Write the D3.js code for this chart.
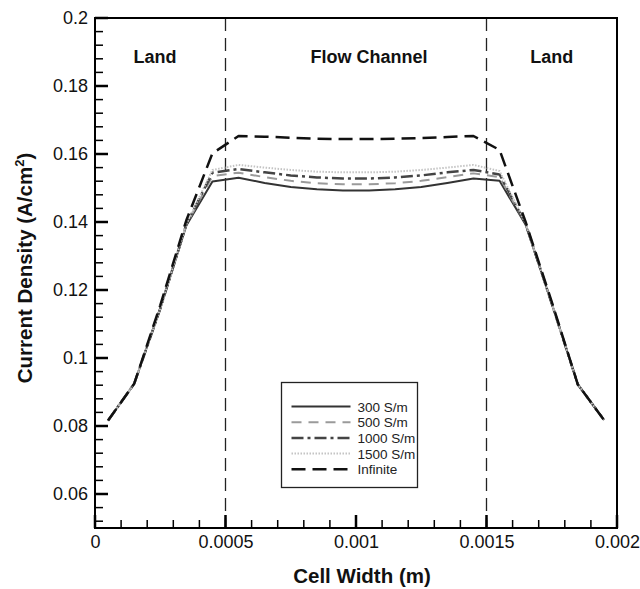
<!DOCTYPE html>
<html>
<head>
<meta charset="utf-8">
<script src="https://cdn.jsdelivr.net/npm/d3@7"></script>
<style>
  body { margin: 0; background: #fff; }
  svg { display: block; font-family: "Liberation Sans", Arial, sans-serif; color: #000; }
</style>
</head>
<body>
<svg id="chart" width="640" height="589"></svg>
<script>
// cell width positions (m)
var cellX = [0.00005, 0.00015, 0.00025, 0.00035, 0.00045, 0.00055, 0.00065, 0.00075, 0.00085, 0.00095,
             0.00105, 0.00115, 0.00125, 0.00135, 0.00145, 0.00155, 0.00165, 0.00175, 0.00185, 0.00195];

// current density (A/cm2) for each membrane conductivity
var s300  = [0.0816, 0.0924, 0.1145, 0.1390, 0.1519, 0.1530, 0.1515, 0.1503, 0.1496, 0.1493,
             0.1493, 0.1496, 0.1503, 0.1515, 0.1528, 0.1521, 0.1392, 0.1160, 0.0922, 0.0818];
var s500  = [0.0816, 0.0924, 0.1145, 0.1392, 0.1535, 0.1545, 0.1532, 0.1521, 0.1514, 0.1511,
             0.1511, 0.1514, 0.1521, 0.1532, 0.1543, 0.1532, 0.1394, 0.1160, 0.0922, 0.0818];
var s1000 = [0.0816, 0.0924, 0.1145, 0.1393, 0.1545, 0.1556, 0.1546, 0.1537, 0.1531, 0.1528,
             0.1528, 0.1531, 0.1537, 0.1546, 0.1553, 0.1540, 0.1395, 0.1160, 0.0922, 0.0818];
var s1500 = [0.0816, 0.0924, 0.1145, 0.1394, 0.1553, 0.1568, 0.1560, 0.1553, 0.1548, 0.1546,
             0.1546, 0.1548, 0.1553, 0.1560, 0.1568, 0.1550, 0.1396, 0.1160, 0.0922, 0.0818];
var sInf  = [0.0816, 0.0924, 0.1155, 0.1405, 0.1602, 0.1653, 0.1651, 0.1648, 0.1645, 0.1644,
             0.1644, 0.1645, 0.1647, 0.1650, 0.1653, 0.1612, 0.1400, 0.1165, 0.0922, 0.0818];

var seriesNames = ["300 S/m", "500 S/m", "1000 S/m", "1500 S/m", "Infinite"];
var seriesValues = [s300, s500, s1000, s1500, sInf];

var xTicks = [0, 0.0005, 0.001, 0.0015, 0.002];
var xTickLabels = ["0", "0.0005", "0.001", "0.0015", "0.002"];
var yTicks = [0.06, 0.08, 0.1, 0.12, 0.14, 0.16, 0.18, 0.2];
var yTickLabels = ["0.06", "0.08", "0.1", "0.12", "0.14", "0.16", "0.18", "0.2"];

var regionNames = ["Land", "Flow Channel", "Land"];
var regionCenters = [0.00023, 0.00105, 0.00175];
var regionEdges = [0.0005, 0.0015];

// line styles, same order as seriesNames
var styles = [
  {stroke: "#333", width: 2, dash: null},
  {stroke: "#9a9a9a", width: 2, dash: "10,7"},
  {stroke: "#444", width: 2.5, dash: "12,4,3,4"},
  {stroke: "#c4c4c4", width: 2, dash: "1.5,1.5"},
  {stroke: "#111", width: 2.5, dash: "14,7"}
];

var svg = d3.select("#chart");
var margin = {left: 95, top: 18, right: 23, bottom: 61};
var W = 640 - margin.left - margin.right;
var H = 589 - margin.top - margin.bottom;

var g = svg.append("g").attr("transform", "translate(" + margin.left + "," + margin.top + ")");

var x = d3.scaleLinear().domain([0, 0.002]).range([0, W]);
var y = d3.scaleLinear().domain([0.05, 0.2]).range([H, 0]);

// region dividers
g.selectAll(".divider").data(regionEdges).enter().append("line")
  .attr("class", "divider")
  .attr("x1", function(d) { return x(d); }).attr("x2", function(d) { return x(d); })
  .attr("y1", 0).attr("y2", H)
  .attr("stroke", "#222").attr("stroke-width", 1.3).attr("stroke-dasharray", "13,7");

// region labels
g.selectAll(".region").data(regionNames).enter().append("text")
  .attr("class", "region")
  .attr("x", function(d, i) { return x(regionCenters[i]); })
  .attr("y", 45)
  .attr("text-anchor", "middle")
  .attr("font-size", 18).attr("font-weight", "bold").attr("fill", "#111")
  .text(function(d) { return d; });

// curves
var lineGen = d3.line()
  .x(function(d, i) { return x(cellX[i]); })
  .y(function(d) { return y(d); });

g.selectAll(".curve").data(seriesValues).enter().append("path")
  .attr("class", "curve")
  .attr("d", lineGen)
  .attr("fill", "none")
  .attr("stroke", function(d, i) { return styles[i].stroke; })
  .attr("stroke-width", function(d, i) { return styles[i].width; })
  .attr("stroke-dasharray", function(d, i) { return styles[i].dash; })
  .attr("stroke-linejoin", "round");

// legend
var leg = g.append("g").attr("transform", "translate(" + (281.5 - margin.left) + "," + (382.5 - margin.top) + ")");
leg.append("rect").attr("width", 136).attr("height", 105)
  .attr("fill", "#fff").attr("stroke", "#222").attr("stroke-width", 1.3);
var rows = leg.selectAll(".row").data(seriesNames).enter().append("g")
  .attr("class", "row")
  .attr("transform", function(d, i) { return "translate(0," + (24 + i * 15.7) + ")"; });
rows.append("line")
  .attr("x1", 10).attr("x2", 69).attr("y1", 0).attr("y2", 0)
  .attr("stroke", function(d, i) { return styles[i].stroke; })
  .attr("stroke-width", function(d, i) { return styles[i].width; })
  .attr("stroke-dasharray", function(d, i) { return styles[i].dash; });
rows.append("text")
  .attr("x", 76).attr("y", 5)
  .attr("font-size", 13.5).attr("fill", "#222")
  .text(function(d) { return d; });

// tick labels from d3 axes
function styleAxis(a) {
  a.select(".domain").remove();
  a.selectAll(".tick line").remove();
  a.selectAll(".tick text").attr("font-size", 18).attr("fill", "#111");
}
g.append("g")
  .attr("transform", "translate(0," + H + ")")
  .call(d3.axisBottom(x).tickValues(xTicks).tickSize(0).tickPadding(7)
    .tickFormat(function(d, i) { return xTickLabels[i]; }))
  .call(styleAxis);
g.append("g")
  .call(d3.axisLeft(y).tickValues(yTicks).tickSize(0).tickPadding(7)
    .tickFormat(function(d, i) { return yTickLabels[i]; }))
  .call(styleAxis);

// tick marks pointing inward, drawn as thin filled bars (minor 8px, major 13px)
var xMinor = d3.range(1, 20).map(function(i) { return i / 10000; });
var yMinor = d3.range(0, 37).map(function(i) { return 0.052 + i * 0.004; });

function xMarks(vals, len, w) {
  g.append("g").selectAll("rect").data(vals).enter().append("rect")
    .attr("x", function(d) { return x(d) - w / 2; }).attr("y", H - len)
    .attr("width", w).attr("height", len)
    .attr("fill", "#000");
}
function yMarks(vals, len, w) {
  g.append("g").selectAll("rect").data(vals).enter().append("rect")
    .attr("x", 0).attr("y", function(d) { return y(d) - w / 2; })
    .attr("width", len).attr("height", w)
    .attr("fill", "#000");
}
xMarks(xMinor, 8, 1.5);
yMarks(yMinor, 8, 1.5);
xMarks(xTicks, 13, 2.5);
yMarks(yTicks, 13, 2.5);

// frame
g.append("rect").attr("width", W).attr("height", H)
  .attr("fill", "none").attr("stroke", "#000").attr("stroke-width", 2);

// axis titles
svg.append("text")
  .attr("x", 362).attr("y", 583)
  .attr("text-anchor", "middle")
  .attr("font-size", 20.5).attr("font-weight", "bold").attr("fill", "#111")
  .text("Cell Width (m)");

var yt = svg.append("text")
  .attr("transform", "translate(32,268) rotate(-90)")
  .attr("text-anchor", "middle")
  .attr("font-size", 20.5).attr("font-weight", "bold").attr("fill", "#111");
yt.append("tspan").text("Current Density (A/cm");
yt.append("tspan").attr("font-size", 13).attr("dy", -8).text("2");
yt.append("tspan").attr("dy", 8).text(")");
</script>
</body>
</html>
